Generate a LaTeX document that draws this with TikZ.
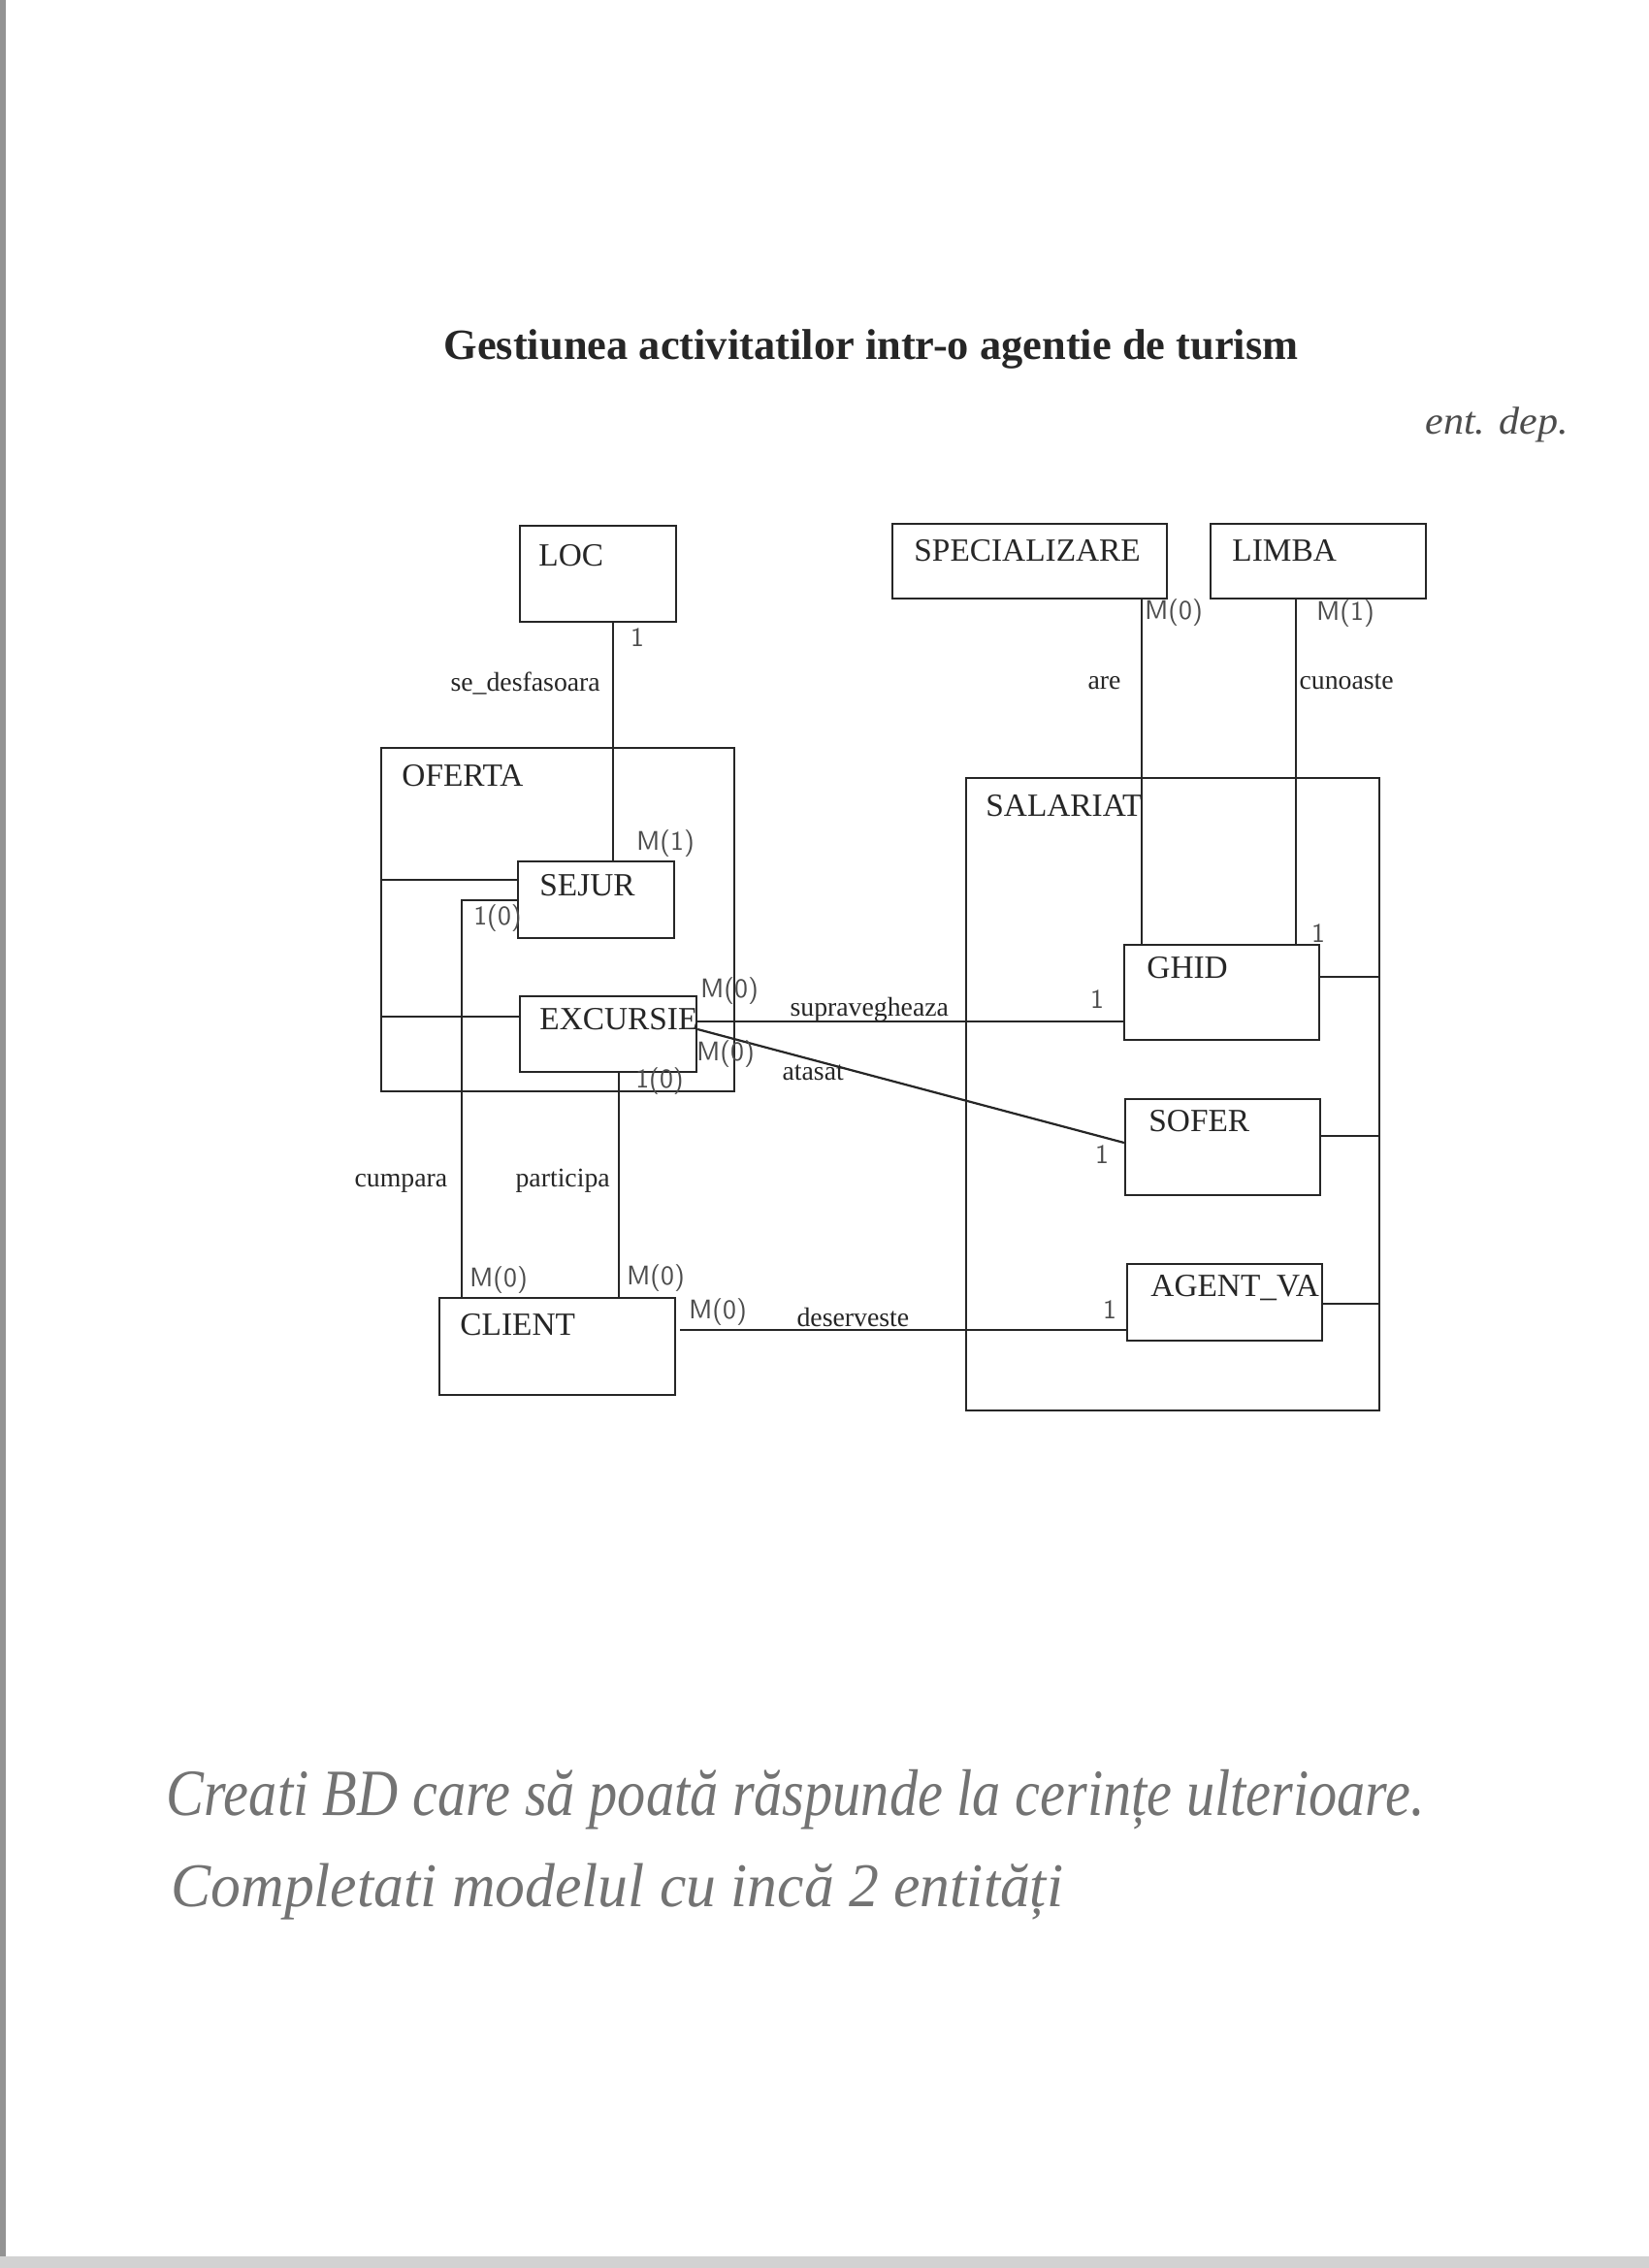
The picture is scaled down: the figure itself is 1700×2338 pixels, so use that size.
\documentclass[tikz,border=0pt]{standalone}
\usepackage{fontspec}
\usepackage{graphicx}
\setmainfont{Liberation Serif}
\usetikzlibrary{calc,fit}
\definecolor{ink}{gray}{0.15}
\definecolor{pencil}{gray}{0.3}
\definecolor{thinpen}{gray}{0.45}
\begin{document}
\begin{tikzpicture}[x=0.36pt,y=-0.36pt,
  ent/.style={draw=ink,line width=0.8pt,inner sep=0pt},
  etxt/.style={anchor=base west,inner sep=0pt,text=ink,font=\fontsize{12}{14}\selectfont},
  rel/.style={anchor=base west,inner sep=0pt,text=ink,font=\fontsize{10}{12}\selectfont},
  card/.style={inner sep=0pt,text=pencil,font=\sffamily\fontsize{10}{12}\selectfont},
  link/.style={draw=ink,line width=0.8pt},
  hand/.style={anchor=base west,inner sep=0pt,text=pencil,font=\itshape}]

% page and scanner edges
\useasboundingbox (0,0) rectangle (1700,2338);
\fill[white] (0,0) rectangle (1700,2338);
\fill[gray!85] (0,0) rectangle (6,2338);
\fill[gray!35] (0,2326) rectangle (1700,2338);

% title
\node[anchor=base,inner sep=0pt,text=ink,font=\bfseries\fontsize{16}{19}\selectfont] (title) at (898,370)
  {Gestiunea activitatilor intr-o agentie de turism};
\node[hand] (note) at (1469,447) {\resizebox{53pt}{10pt}{ent. dep.}};

% entities
\node[ent,fit={(536,542) (697,641)}] (loc) {};
\node[ent,fit={(920,540) (1203,617)}] (spec) {};
\node[ent,fit={(1248,540) (1470,617)}] (limba) {};
\node[ent,fit={(393,771) (757,1125)}] (oferta) {};
\node[ent,fit={(534,888) (695,967)}] (sejur) {};
\node[ent,fit={(536,1027) (718,1105)}] (excursie) {};
\node[ent,fit={(453,1338) (696,1438)}] (client) {};
\node[ent,fit={(996,802) (1422,1454)}] (salariat) {};
\node[ent,fit={(1159,974) (1360,1072)}] (ghid) {};
\node[ent,fit={(1160,1133) (1361,1232)}] (sofer) {};
\node[ent,fit={(1162,1303) (1363,1382)}] (agent) {};

% entity names
\node[etxt] (loc-t) at ($(loc.north west)+(20,43)$) {LOC};
\node[etxt] (spec-t) at ($(spec.north west)+(23,40)$) {SPECIALIZARE};
\node[etxt] (limba-t) at ($(limba.north west)+(23,40)$) {LIMBA};
\node[etxt] (oferta-t) at ($(oferta.north west)+(22,41)$) {OFERTA};
\node[etxt] (sejur-t) at ($(sejur.north west)+(23,37)$) {SEJUR};
\node[etxt] (excursie-t) at ($(excursie.north west)+(21,36)$) {EXCURSIE};
\node[etxt] (client-t) at ($(client.north west)+(22,40)$) {CLIENT};
\node[etxt] (salariat-t) at ($(salariat.north west)+(21,41)$) {SALARIAT};
\node[etxt] (ghid-t) at ($(ghid.north west)+(24,36)$) {GHID};
\node[etxt] (sofer-t) at ($(sofer.north west)+(25,35)$) {SOFER};
\node[etxt] (agent-t) at ($(agent.north west)+(25,35)$) {AGENT\_VA};

% guide positions of the connectors
\coordinate (xsd) at (632,0);
\coordinate (xcb) at (476,0);
\coordinate (xpa) at (638,0);
\coordinate (xare) at (1177,0);
\coordinate (xcun) at (1336,0);
\coordinate (ysej) at (0,907);
\coordinate (ycb) at (0,928);
\coordinate (yexc) at (0,1048);
\coordinate (ysup) at (0,1053);
\coordinate (yat) at (0,1061);
\coordinate (ysof) at (0,1178);
\coordinate (ydes) at (0,1371);
\coordinate (yg) at (0,1007);
\coordinate (ys) at (0,1171);
\coordinate (ya) at (0,1344);

% connectors
\draw[link] (loc.south -| xsd) -- (sejur.north -| xsd);
\draw[link] (oferta.west |- ysej) -- (sejur.west |- ysej);
\draw[link] (oferta.west |- yexc) -- (excursie.west |- yexc);
\draw[link] (sejur.west |- ycb) -| (client.north -| xcb);
\draw[link] (excursie.south -| xpa) -- (client.north -| xpa);
\draw[link] (excursie.east |- ysup) -- (ghid.west |- ysup);
\draw[link] (excursie.east |- yat) -- (sofer.west |- ysof);
\draw[link] ($(client.east |- ydes)+(4,0)$) -- (agent.west |- ydes);
\draw[link] (spec.south -| xare) -- (ghid.north -| xare);
\draw[link] (limba.south -| xcun) -- (ghid.north -| xcun);
\draw[link] (ghid.east |- yg) -- (salariat.east |- yg);
\draw[link] (sofer.east |- ys) -- (salariat.east |- ys);
\draw[link] (agent.east |- ya) -- (salariat.east |- ya);

% relationship names
\node[rel] (r-sd) at (464,712) {se\_desfasoara};
\node[rel] (r-are) at (1121,710) {are};
\node[rel] (r-cun) at (1339,710) {cunoaste};
\node[rel] (r-sup) at (814,1047) {supravegheaza};
\node[rel] (r-at) at (806,1113) {atasat};
\node[rel] (r-cb) at (365,1223) {cumpara};
\node[rel] (r-pa) at (531,1223) {participa};
\node[rel] (r-des) at (821,1367) {deserveste};

% cardinalities
\node[card] (c1) at (657,657) {1};
\node[card] (c2) at (686,870) {M(1)};
\node[card] (c3) at (513,947) {1(0)};
\node[card] (c4) at (752,1022) {M(0)};
\node[card] (c5) at (748,1087) {M(0)};
\node[card] (c6) at (680,1115) {1(0)};
\node[card] (c7) at (514,1320) {M(0)};
\node[card] (c8) at (676,1318) {M(0)};
\node[card] (c9) at (740,1353) {M(0)};
\node[card] (c10) at (1210,632) {M(0)};
\node[card] (c11) at (1387,633) {M(1)};
\node[card] (c12) at (1359,962) {1};
\node[card] (c13) at (1131,1030) {1};
\node[card] (c14) at (1136,1190) {1};
\node[card] (c15) at (1144,1350) {1};

% handwritten request
\node[hand,text=thinpen] (req1) at (171,1871) {\resizebox{467pt}{17pt}{Creati BD care să poată răspunde la cerințe ulterioare.}};
\node[hand,text=thinpen] (req2) at (176,1965) {\resizebox{331pt}{16pt}{Completati modelul cu incă 2 entități}};
\end{tikzpicture}
\end{document}
